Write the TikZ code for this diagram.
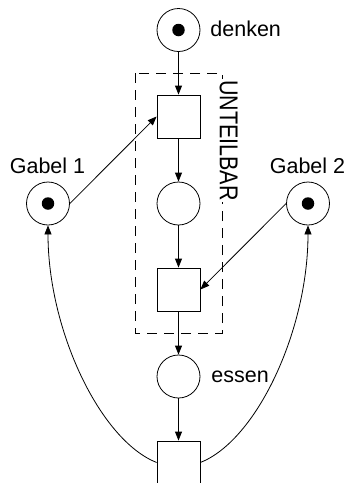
\documentclass[tikz,border=0pt]{standalone}
\usepackage{fontspec}
\setmainfont{Liberation Sans}
\usetikzlibrary{arrows.meta}
\begin{document}
\begin{tikzpicture}[x=1pt,y=-1pt,
  line width=0.8pt,
  place/.style={circle,draw,minimum size=43pt,inner sep=0pt},
  trans/.style={rectangle,draw,minimum width=43pt,minimum height=43pt,inner sep=0pt},
  token/.style={circle,fill,minimum size=12.5pt,inner sep=0pt},
  lbl/.style={font=\fontsize{21.5}{24}\selectfont,inner sep=0pt},
  arc/.style={-{Triangle[length=9pt,width=7pt]}}]
\useasboundingbox (0,0) rectangle (350,483);

% critical section frame
\draw[dash pattern=on 10pt off 7pt] (135,73) rectangle (222,333);
\node[lbl,rotate=-90,fill=white,inner sep=1pt] (unteilbar) at (228.5,140.5)
  {\scalebox{1}[1.2]{UNTEILBAR}};

% places
\node[place] (denken) at (178.5,30) {};
\node[token] at (denken) {};
\node[place] (mitte) at (178.5,203.5) {};
\node[place] (essen) at (178.5,376.5) {};
\node[place] (g1) at (48,203.5) {};
\node[token] at (g1) {};
\node[place] (g2) at (308,203.5) {};
\node[token] at (g2) {};

% transitions
\node[trans] (t1) at (178.5,116.5) {};
\node[trans] (t2) at (178.5,289.5) {};
\node[trans] (t3) at (178.5,462.5) {};

% labels
\node[lbl,anchor=base west] (ldenken) at (210,36) {denken};
\node[lbl,anchor=base west] (lessen) at (211,382) {essen};
\node[lbl,anchor=base] (lg1) at (47.5,173) {Gabel 1};
\node[lbl,anchor=base] (lg2) at (307.5,173) {Gabel 2};

% arcs
\draw[arc] (denken) -- (t1);
\draw[arc] (t1) -- (mitte);
\draw[arc] (mitte) -- (t2);
\draw[arc] (t2) -- (essen);
\draw[arc] (essen) -- (t3);
\draw[arc] (g1.east) -- (t1.west);
\draw[arc] (g2.west) -- (t2.east);
\draw[arc] (t3.west) .. controls (100,440) and (48,330) .. (g1.south);
\draw[arc] (t3.east) .. controls (257,440) and (308,330) .. (g2.south);
\end{tikzpicture}
\end{document}
